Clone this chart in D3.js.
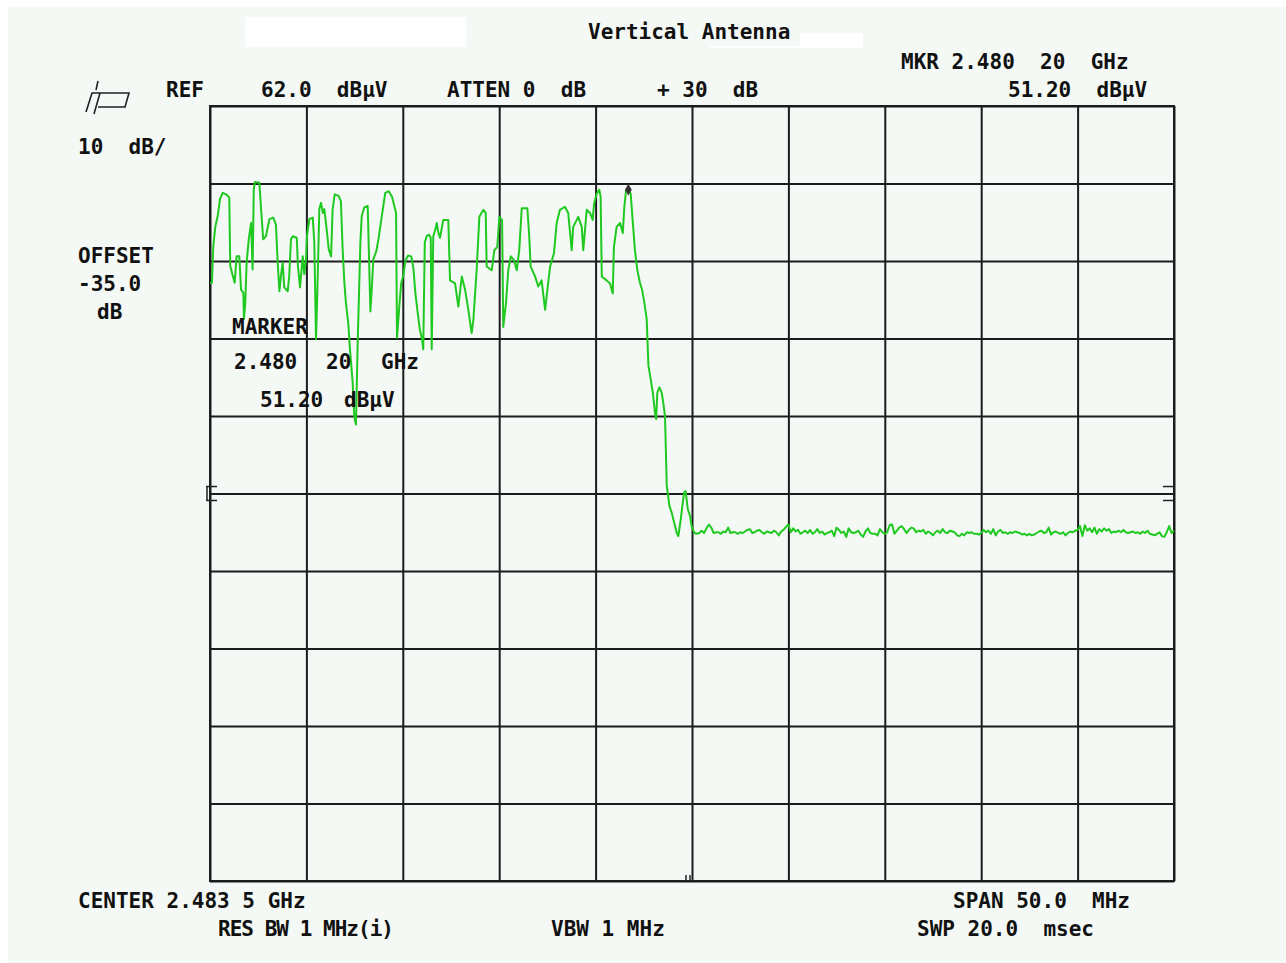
<!DOCTYPE html>
<html>
<head>
<meta charset="utf-8">
<script src="https://cdn.jsdelivr.net/npm/d3@7"></script>
<style>
  body { margin: 0; background: #fff; }
  svg text { font-family: "DejaVu Sans Mono", monospace; font-weight: bold; font-size: 21px; fill: #111; white-space: pre; }
</style>
</head>
<body>
<svg id="chart" width="1286" height="963"></svg>
<script>
// analyzer settings
const refLevel = 62.0;      // dBuV, top graticule line
const dbPerDiv = 10;
const centerMHz = 2483.5;
const spanMHz = 50.0;
const markerMHz = 2480.20;
const markerLevel = 51.20;
const sideMarks = [12.9, 11.1];  // small ticks at the graticule edges (dBuV)

// band part of the trace (MHz, dBuV)
const bandFreq = [
  2458.50, 2458.60, 2458.67, 2458.78, 2458.90, 2459.02, 2459.16, 2459.33, 2459.50, 2459.55,
  2459.68, 2459.78, 2459.88, 2460.02, 2460.11, 2460.23, 2460.26, 2460.33, 2460.40, 2460.51,
  2460.63, 2460.71, 2460.77, 2460.83, 2461.06, 2461.15, 2461.26, 2461.40, 2461.58, 2461.78,
  2461.92, 2462.01, 2462.10, 2462.18, 2462.27, 2462.35, 2462.53, 2462.61, 2462.70, 2462.79,
  2463.00, 2463.06, 2463.17, 2463.31, 2463.39, 2463.48, 2463.53, 2463.65, 2463.83, 2463.91,
  2464.00, 2464.09, 2464.17, 2464.26, 2464.35, 2464.43, 2464.55, 2464.66, 2464.78, 2464.86,
  2464.97, 2465.17, 2465.29, 2465.38, 2465.47, 2465.55, 2465.67, 2465.76, 2465.90, 2465.98,
  2466.07, 2466.16, 2466.24, 2466.30, 2466.37, 2466.50, 2466.68, 2466.75, 2466.82, 2466.89,
  2466.97, 2467.13, 2467.25, 2467.39, 2467.49, 2467.59, 2467.77, 2467.94, 2468.08, 2468.15,
  2468.20, 2468.32, 2468.42, 2468.53, 2468.63, 2468.77, 2468.94, 2469.05, 2469.15, 2469.25,
  2469.38, 2469.50, 2469.56, 2469.64, 2469.74, 2469.86, 2469.95, 2470.00, 2470.08, 2470.19,
  2470.26, 2470.34, 2470.43, 2470.60, 2470.86, 2470.95, 2471.21, 2471.38, 2471.56, 2471.73,
  2471.90, 2472.07, 2472.16, 2472.33, 2472.47, 2472.68, 2472.80, 2472.85, 2473.11, 2473.25,
  2473.40, 2473.51, 2473.65, 2473.71, 2473.85, 2473.97, 2474.10, 2474.27, 2474.41, 2474.54,
  2474.67, 2474.96, 2475.06, 2475.13, 2475.36, 2475.53, 2475.70, 2475.88, 2475.96, 2476.14,
  2476.34, 2476.48, 2476.65, 2476.91, 2477.08, 2477.26, 2477.34, 2477.60, 2477.78, 2477.86,
  2478.04, 2478.21, 2478.35, 2478.42, 2478.56, 2478.69, 2478.76, 2478.82, 2479.07, 2479.25,
  2479.39, 2479.45, 2479.59, 2479.77, 2479.91, 2479.99, 2480.08, 2480.20, 2480.32, 2480.42,
  2480.54, 2480.58, 2480.66, 2480.80, 2480.91, 2481.03, 2481.15, 2481.24, 2481.36, 2481.47,
  2481.58, 2481.64, 2481.70, 2481.81, 2481.93, 2482.01, 2482.10, 2482.19, 2482.33, 2482.45,
  2482.58, 2482.71, 2482.79, 2482.92, 2483.00, 2483.09, 2483.17, 2483.28, 2483.40, 2483.48
];
const bandLevel = [
  39.2, 39.2, 43.9, 46.5, 47.8, 50.0, 50.8, 50.6, 50.2, 41.4,
  40.1, 39.2, 42.6, 42.6, 38.3, 37.9, 34.5, 36.6, 41.8, 44.8,
  46.9, 40.9, 51.2, 52.2, 52.1, 48.7, 44.8, 45.2, 47.4, 47.6,
  46.7, 41.8, 38.1, 40.1, 41.8, 38.6, 38.1, 40.1, 44.8, 45.2,
  45.0, 41.4, 38.6, 42.6, 40.3, 42.2, 45.2, 47.4, 47.6, 44.4,
  31.9, 40.1, 48.7, 49.5, 48.2, 48.7, 46.1, 43.5, 42.6, 48.7,
  50.6, 50.4, 49.7, 43.5, 39.2, 36.6, 34.0, 30.6, 26.3, 22.0,
  20.9, 31.5, 38.8, 44.4, 47.8, 48.9, 49.1, 42.2, 35.5, 38.3,
  42.2, 43.3, 45.0, 47.4, 49.1, 50.8, 51.0, 50.3, 48.9, 48.2,
  32.1, 36.2, 39.2, 40.1, 42.0, 42.7, 42.6, 41.1, 37.9, 35.8,
  33.2, 31.9, 30.6, 44.4, 45.2, 45.4, 45.0, 30.6, 45.2, 46.1,
  46.9, 45.7, 45.0, 47.3, 47.3, 39.5, 39.1, 36.1, 40.0, 38.3,
  35.7, 32.7, 34.4, 40.8, 47.7, 48.6, 48.2, 41.3, 40.8, 43.4,
  43.8, 47.7, 47.3, 33.5, 36.5, 40.8, 42.6, 42.1, 40.8, 43.4,
  48.8, 48.8, 45.1, 41.3, 40.0, 38.7, 39.5, 35.7, 37.4, 41.3,
  43.0, 46.9, 48.6, 49.0, 48.2, 43.4, 46.4, 47.7, 46.4, 43.4,
  48.6, 48.2, 47.3, 49.4, 50.7, 51.2, 50.3, 40.0, 39.5, 39.1,
  37.8, 43.8, 46.4, 46.9, 45.6, 49.0, 51.1, 51.2, 50.7, 47.3,
  43.4, 42.6, 40.9, 39.2, 38.3, 36.6, 34.5, 28.5, 26.7, 25.0,
  22.4, 21.6, 25.0, 25.7, 25.0, 23.7, 22.0, 13.0, 10.4, 9.5,
  8.2, 6.9, 6.5, 8.7, 10.4, 12.1, 12.3, 10.0, 9.1, 7.8
];

// noise floor above the band, one reading per trace bin
const floorStart = 2483.625;
const floorStep = 0.125;
const floorLevel = [
  6.9, 6.8, 6.9, 7.2, 6.9, 7.5, 8.0, 7.6, 6.9, 7.0, 7.0, 6.8, 7.1, 7.0, 7.6, 6.9, 7.0, 7.0, 6.8, 7.0,
  6.9, 7.1, 7.3, 7.4, 6.9, 7.0, 7.2, 7.3, 7.0, 6.8, 7.1, 7.0, 6.9, 7.2, 7.0, 6.6, 7.1, 7.3, 7.7, 8.0,
  7.0, 7.5, 7.1, 7.3, 6.8, 7.0, 7.2, 6.9, 7.3, 6.8, 7.0, 7.4, 6.9, 7.1, 6.7, 6.9, 7.0, 7.2, 6.5, 7.6,
  7.3, 6.9, 7.1, 6.4, 7.5, 7.0, 6.9, 7.0, 7.2, 6.7, 6.4, 7.1, 7.5, 6.9, 6.8, 6.8, 6.6, 7.4, 7.0, 6.8,
  7.0, 7.9, 8.0, 6.8, 7.2, 7.6, 7.8, 7.4, 6.9, 7.3, 7.6, 7.5, 7.0, 7.2, 7.1, 7.3, 6.8, 7.1, 6.9, 6.6,
  7.0, 7.2, 6.9, 7.4, 7.0, 6.9, 7.2, 7.1, 7.0, 6.6, 6.5, 6.8, 6.6, 7.0, 6.9, 7.0, 6.8, 6.8, 6.7, 6.9,
  7.3, 7.0, 7.2, 6.8, 7.4, 6.6, 7.1, 7.3, 6.9, 7.0, 6.8, 7.0, 6.9, 7.1, 7.0, 6.9, 6.7, 6.8, 6.6, 6.8,
  6.6, 6.7, 6.9, 7.1, 7.2, 6.9, 7.0, 7.6, 6.7, 7.0, 7.1, 6.9, 6.8, 7.0, 6.6, 6.9, 7.1, 7.0, 7.2, 7.3,
  7.8, 6.5, 7.9, 7.2, 7.5, 7.0, 7.6, 6.8, 7.4, 7.1, 7.5, 7.2, 7.4, 6.9, 7.1, 7.0, 7.2, 7.0, 7.3, 7.0,
  6.9, 7.0, 7.1, 6.9, 7.0, 6.8, 7.1, 6.9, 7.2, 6.8, 6.7, 6.6, 6.8, 7.0, 6.5, 6.4, 7.0, 7.8, 6.9, 7.2
];

const trace = bandFreq.map((f, i) => ({ f: f, v: bandLevel[i] }))
  .concat(floorLevel.map((v, i) => ({ f: floorStart + i * floorStep, v: v })));

const svg = d3.select('#chart');

// screen background and the blanked-out patches
svg.append('rect').attr('x', 8).attr('y', 7).attr('width', 1278).attr('height', 956).attr('fill', '#f4f9f5');
svg.append('rect').attr('x', 245).attr('y', 17).attr('width', 221).attr('height', 30).attr('fill', '#fff');
svg.append('rect').attr('x', 800).attr('y', 33).attr('width', 63).attr('height', 15).attr('fill', '#fff');
svg.append('rect').attr('x', 710).attr('y', 46).attr('width', 90).attr('height', 2).attr('fill', '#fff');

const margin = { top: 106, left: 210 };
const width = 964;
const height = 775;

const x = d3.scaleLinear()
  .domain([centerMHz - spanMHz / 2, centerMHz + spanMHz / 2])
  .range([0, width]);
const y = d3.scaleLinear()
  .domain([refLevel - 10 * dbPerDiv, refLevel])
  .range([height, 0]);

const g = svg.append('g').attr('transform', `translate(${margin.left},${margin.top})`);

// graticule, 10 x 10 divisions
const xTicks = d3.range(11).map(i => x.domain()[0] + i * spanMHz / 10);
const yTicks = d3.range(11).map(i => refLevel - i * dbPerDiv);

g.append('g')
  .attr('transform', `translate(0,${height})`)
  .call(d3.axisBottom(x).tickValues(xTicks).tickSize(-height).tickFormat(''))
  .call(a => a.select('.domain').remove());
g.append('g')
  .call(d3.axisLeft(y).tickValues(yTicks).tickSize(-width).tickFormat(''))
  .call(a => a.select('.domain').remove());
g.selectAll('.tick line').attr('stroke', '#1c1c1c').attr('stroke-width', 2);

g.append('rect')
  .attr('width', width).attr('height', height)
  .attr('fill', 'none').attr('stroke', '#1c1c1c').attr('stroke-width', 2);

// side ticks
sideMarks.forEach(v => {
  g.append('line').attr('x1', -4).attr('x2', 7).attr('y1', y(v)).attr('y2', y(v)).attr('stroke', '#222').attr('stroke-width', 1.5);
  g.append('line').attr('x1', width - 11).attr('x2', width).attr('y1', y(v)).attr('y2', y(v)).attr('stroke', '#222').attr('stroke-width', 1.5);
});
g.append('line').attr('x1', -3).attr('x2', -3).attr('y1', y(sideMarks[0])).attr('y2', y(sideMarks[1])).attr('stroke', '#222').attr('stroke-width', 1.5);

// little mark on the bottom edge near centre
[-6, -2].forEach(dx => {
  g.append('line').attr('x1', x(centerMHz) + dx).attr('x2', x(centerMHz) + dx)
    .attr('y1', height - 6).attr('y2', height).attr('stroke', '#222').attr('stroke-width', 1.5);
});

// trace
const line = d3.line().x(d => x(d.f)).y(d => y(d.v));
g.append('path')
  .datum(trace)
  .attr('d', line)
  .attr('fill', 'none')
  .attr('stroke', '#1fc91f')
  .attr('stroke-width', 2)
  .attr('stroke-linejoin', 'round');

// marker
g.append('path')
  .attr('d', d3.symbol().type(d3.symbolDiamond).size(40))
  .attr('transform', `translate(${x(markerMHz)},${y(markerLevel)})`)
  .attr('fill', '#333');

// hp logo
const logo = svg.append('g').attr('transform', 'translate(83,80)')
  .attr('fill', 'none').attr('stroke', '#222').attr('stroke-width', 1.6);
logo.append('path').attr('d', 'M15 1 L13 10 M3 32 L9 13 L24 13 M17 13 L11 34 M18 13 L46 13 L42 27 L15 27');

// annotations
function label(px, py, txt, len) {
  const t = svg.append('text').attr('x', px).attr('y', py).text(txt);
  if (len) t.attr('textLength', len).attr('lengthAdjust', 'spacing');
}
const mkrGHz = (markerMHz / 1000).toFixed(3);
label(588, 39, 'Vertical Antenna');
label(901, 69, `MKR ${mkrGHz}  20  GHz`);
label(166, 97, 'REF');
label(261, 97, `${refLevel.toFixed(1)}  dBµV`);
label(447, 97, 'ATTEN 0  dB');
label(657, 97, '+ 30  dB');
label(1008, 97, `${markerLevel.toFixed(2)}  dBµV`);
label(78, 154, `${dbPerDiv}  dB/`);
label(78, 263, 'OFFSET');
label(78, 291, '-35.0');
label(97, 319, 'dB');
label(232, 334, 'MARKER');
label(234, 369, mkrGHz);
label(326, 369, '20');
label(381, 369, 'GHz');
label(260, 407, markerLevel.toFixed(2));
label(344, 407, 'dBµV');
label(78, 908, 'CENTER 2.483 5 GHz');
label(953, 908, `SPAN ${spanMHz.toFixed(1)}  MHz`);
label(218, 936, 'RES BW 1 MHz(i)', 176);
label(551, 936, 'VBW 1 MHz');
label(917, 936, 'SWP 20.0  msec');
</script>
</body>
</html>
